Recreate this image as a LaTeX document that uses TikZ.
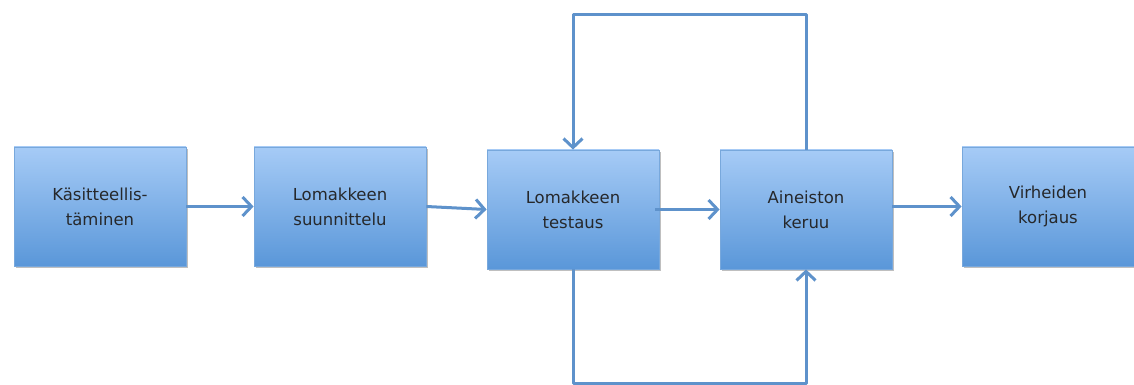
\documentclass[tikz,border=0pt]{standalone}
\usepackage{fontspec}
\setmainfont{DejaVu Sans}
\usetikzlibrary{positioning}
\usetikzlibrary{arrows.meta}
\usetikzlibrary{shadows}
\definecolor{boxtop}{HTML}{A6CBF6}
\definecolor{boxbot}{HTML}{5A97D9}
\definecolor{boxline}{HTML}{78A8DC}
\definecolor{edgeblue}{HTML}{5E92CB}
\definecolor{textgray}{HTML}{26282B}
\tikzset{
    mybox/.style = {rectangle, draw=boxline, line width=0.8pt, top color=boxtop, bottom color=boxbot,
      minimum width=172, minimum height=119, align=center, text=textgray,
      font=\fontsize{16.5}{25}\selectfont,
      drop shadow={shadow xshift=1.5pt, shadow yshift=-2pt, opacity=0.25, fill=black}},
    edgeb/.style = {-{Straight Barb[length=9pt,width=19pt,line width=3pt]}, line width=3pt, edgeblue, line join=round},
}

\begin{document}
\begin{tikzpicture}[x=1pt, y=1pt]
  \useasboundingbox (0,0) rectangle (1134,385);
  % vaiheet
  \node[mybox] (kasitteellistaminen) at (100,178.5) {Käsitteellis-\\täminen};
  \node[mybox] (suunnittelu) at (340,178.5) {Lomakkeen\\suunnittelu};
  \node[mybox] (testaus) at (573,175.5) {Lomakkeen\\testaus};
  \node[mybox] (keruu) at (806,175.5) {Aineiston\\keruu};
  \node[mybox] (korjaus) at (1048,178.5) {Virheiden\\korjaus};
  % nuolet
  \draw[edgeb] (kasitteellistaminen.east) -- (suunnittelu.west);
  \draw[edgeb] (suunnittelu.east) -- (testaus.west);
  \draw[edgeb] ([xshift=-4pt]testaus.east |- keruu.west) -- (keruu.west);
  \draw[edgeb] (keruu.east |- korjaus.west) -- (korjaus.west);
  % silmukat
  \draw[edgeb] (keruu.north) -- ++(0,135) -| (testaus.north);
  \draw[edgeb] (testaus.south) -- ++(0,-114) -| (keruu.south);
\end{tikzpicture}
\end{document}
